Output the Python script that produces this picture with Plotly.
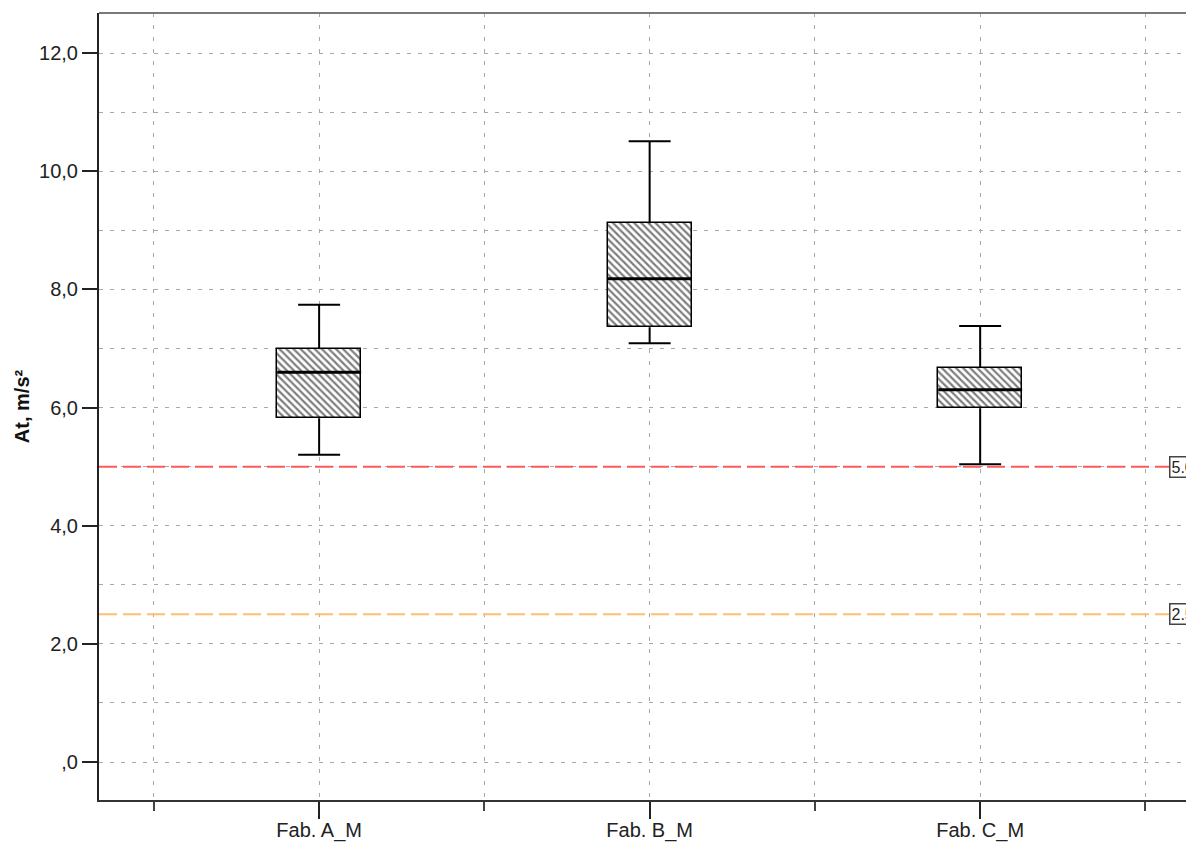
import plotly.graph_objects as go

categories = ["Fab. A_M", "Fab. B_M", "Fab. C_M"]
whisker_low = [5.20, 7.09, 5.04]
q1 = [5.82, 7.36, 5.99]
median = [6.60, 8.18, 6.30]
q3 = [6.99, 9.12, 6.67]
whisker_high = [7.74, 10.51, 7.38]
ref_lines = [5.0, 2.5]
ref_labels = ["5.00", "2.50"]
ref_colors = ["rgb(255,90,90)", "rgb(255,190,110)"]
y_tickvals = [0, 2, 4, 6, 8, 10, 12]
y_ticktext = [",0", "2,0", "4,0", "6,0", "8,0", "10,0", "12,0"]

pos = list(range(len(categories)))
box_w = 0.254
cap_half = 0.0635

fig = go.Figure()

fig.add_trace(go.Bar(
    x=pos, y=[b - a for a, b in zip(q1, q3)], base=q1, width=box_w,
    marker=dict(color="white", line=dict(color="black", width=1.5),
                pattern=dict(shape="\\", size=5, solidity=0.45,
                             fgcolor="black", bgcolor="white", fillmode="overlay")),
    showlegend=False, hoverinfo="skip"))

wx, wy = [], []
for i in pos:
    wx += [i, i, None, i, i, None,
           i - cap_half, i + cap_half, None, i - cap_half, i + cap_half, None]
    wy += [q3[i], whisker_high[i], None, q1[i], whisker_low[i], None,
           whisker_high[i], whisker_high[i], None, whisker_low[i], whisker_low[i], None]
fig.add_trace(go.Scatter(x=wx, y=wy, mode="lines", line=dict(color="black", width=2),
                         showlegend=False, hoverinfo="skip"))

mx, my = [], []
for i in pos:
    mx += [i - box_w / 2, i + box_w / 2, None]
    my += [median[i], median[i], None]
fig.add_trace(go.Scatter(x=mx, y=my, mode="lines", line=dict(color="black", width=3),
                         showlegend=False, hoverinfo="skip"))

for v, lab, c in zip(ref_lines, ref_labels, ref_colors):
    fig.add_hline(y=v, line=dict(color=c, width=2, dash="18px,6px"), layer="above")
    fig.add_annotation(x=0.977, xref="paper", y=v, yref="y", text=lab, showarrow=False,
                       xanchor="left", yanchor="middle",
                       font=dict(family="Liberation Sans, Arial", size=16, color="#222"),
                       bgcolor="white", bordercolor="#444", borderwidth=1.5, borderpad=1)

# top frame line (gray)
fig.add_shape(type="line", xref="paper", yref="paper", x0=0, x1=1, y0=1, y1=1,
              line=dict(color="#7a7a7a", width=2))

# page body has an 8px default margin; size/margins compensate for it
fig.update_layout(
    width=1186, height=835,
    margin=dict(l=91, r=0, t=5, b=43, autoexpand=False),
    plot_bgcolor="white", paper_bgcolor="white",
    font=dict(family="Liberation Sans, Arial", size=20, color="#222"),
    bargap=0,
)
fig.update_xaxes(
    range=[-0.666, 2.647], automargin=False,
    tickvals=pos, ticktext=categories,
    ticks="outside", ticklen=17, tickwidth=2, tickcolor="#222",
    ticklabelstandoff=-6,
    showline=True, linecolor="#333", linewidth=2,
    showgrid=True, gridcolor="#a8a8a8", gridwidth=1, griddash="4px,8px",
    minor=dict(tickvals=[-0.5, 0.5, 1.5, 2.5], ticks="outside", ticklen=9, tickwidth=1.5,
               tickcolor="#444", showgrid=True, gridcolor="#a8a8a8", griddash="4px,8px"),
    zeroline=False, tickfont=dict(size=20),
)
fig.update_yaxes(
    range=[-0.643, 12.68], automargin=False,
    tickvals=y_tickvals, ticktext=y_ticktext,
    ticks="outside", ticklen=15, tickwidth=2, tickcolor="#222",
    showline=True, linecolor="#222", linewidth=2,
    showgrid=True, gridcolor="#a8a8a8", gridwidth=1, griddash="4px,7px",
    minor=dict(dtick=1, tick0=0, showgrid=True, gridcolor="#a8a8a8", griddash="4px,7px", ticks=""),
    zeroline=False, tickfont=dict(size=20),
    title=dict(text="<b>At, m/s²</b>", font=dict(size=20, color="#111"), standoff=4),
)

fig.write_html("out.html")
